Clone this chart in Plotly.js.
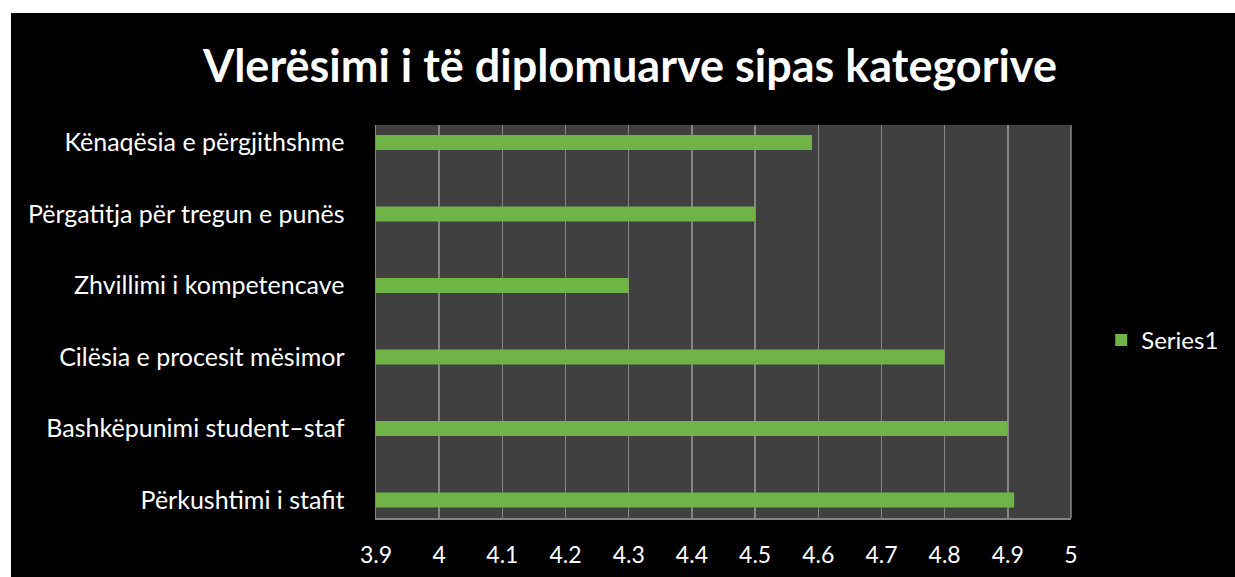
<!DOCTYPE html>
<html>
<head>
<meta charset="utf-8">
<script src="https://cdn.plot.ly/plotly-3.0.1.min.js"></script>
<style>
html,body{margin:0;padding:0;background:#ffffff;width:1235px;height:577px;overflow:hidden;}
#chart{position:absolute;left:11px;top:13px;width:1224px;height:564px;}
</style>
</head>
<body>
<div id="chart"></div>
<script>
const categories = [
  "Përkushtimi i stafit",
  "Bashkëpunimi student–staf",
  "Cilësia e procesit mësimor",
  "Zhvillimi i kompetencave",
  "Përgatitja për tregun e punës",
  "Kënaqësia e përgjithshme"
];
const series1 = [4.91, 4.9, 4.8, 4.3, 4.5, 4.59];
const seriesName = "Series1";
const titleText = "Vlerësimi i të diplomuarve sipas kategorive";
const xTicks = [3.9, 4, 4.1, 4.2, 4.3, 4.4, 4.5, 4.6, 4.7, 4.8, 4.9, 5];

const font = "Lato, 'Open Sans', sans-serif";

const trace = {
  type: "bar",
  orientation: "h",
  x: series1,
  y: categories,
  name: seriesName,
  marker: {color: "#70b347", line: {width: 0}},
  showlegend: true,
  hoverinfo: "x+y"
};

const layout = {
  width: 1224,
  height: 564,
  paper_bgcolor: "#000000",
  plot_bgcolor: "#404040",
  margin: {l: 365, r: 163, t: 112, b: 59},
  title: {
    text: "<b>" + titleText + "</b>",
    font: {family: font, size: 45, color: "#ffffff"},
    x: 0.5057, xanchor: "center",
    y: 0.905, yanchor: "middle"
  },
  bargap: 0.79,
  xaxis: {
    range: [3.9, 5],
    tickvals: xTicks,
    ticktext: xTicks.map(String),
    showgrid: true,
    gridcolor: "#858585",
    gridwidth: 1.5,
    zeroline: false,
    showline: true,
    linecolor: "#858585",
    linewidth: 1.5,
    ticks: "",
    ticklabelstandoff: 16,
    tickfont: {family: font, size: 23, color: "#ffffff"},
    fixedrange: true
  },
  yaxis: {
    type: "category",
    categoryorder: "array",
    categoryarray: categories,
    range: [-0.252, 5.245],
    showgrid: false,
    zeroline: false,
    showline: true,
    linecolor: "#858585",
    linewidth: 1.5,
    ticks: "",
    ticklabelstandoff: 25,
    tickfont: {family: font, size: 25, color: "#ffffff"},
    fixedrange: true
  },
  legend: {
    x: 1.042, xanchor: "left",
    y: 0.452, yanchor: "middle",
    font: {family: font, size: 24, color: "#ffffff"},
    bgcolor: "rgba(0,0,0,0)",
    itemwidth: 30
  },
  shapes: [{
    type: "line", xref: "paper", yref: "paper",
    x0: 1, x1: 1, y0: 0, y1: 1,
    line: {color: "#858585", width: 1.5}
  }]
};

Plotly.newPlot("chart", [trace], layout, {displayModeBar: false, staticPlot: true});
</script>
</body>
</html>
